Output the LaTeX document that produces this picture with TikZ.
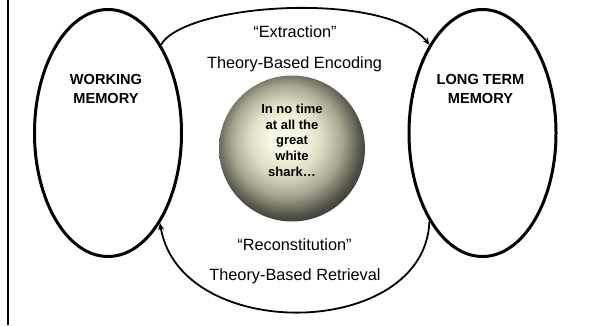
\documentclass[tikz,border=0pt]{standalone}
\usepackage{fontspec}
\setmainfont{Liberation Sans}
\usetikzlibrary{shapes.geometric,arrows.meta}
\definecolor{ballA}{HTML}{F8F8E6}
\definecolor{ballB}{HTML}{E0DFC6}
\definecolor{ballC}{HTML}{A6A590}
\definecolor{ballD}{HTML}{55544A}
\definecolor{ballE}{HTML}{262622}
\pgfdeclareradialshading{sharkball}{\pgfpoint{-3bp}{4.5bp}}{color(0bp)=(ballA); color(5bp)=(ballA); color(12bp)=(ballB); color(19bp)=(ballC); color(25bp)=(ballD); color(30bp)=(ballE); color(50bp)=(ballE)}
\tikzset{
  memory/.style={draw, ellipse, line width=3pt, inner sep=0pt, minimum width=147pt, minimum height=247pt},
  memlabel/.style={align=center, inner sep=0pt, font=\fontsize{14.6}{19}\selectfont\bfseries},
  flowtext/.style={anchor=base, inner sep=0pt, font=\fontsize{16.3}{19}\selectfont},
  flow/.style={line width=1.8pt, -{Stealth[length=7pt,width=6pt]}},
  balltext/.style={align=center, inner sep=0pt, font=\fontsize{13}{15.7}\selectfont\bfseries}
}
\begin{document}
\begin{tikzpicture}[x=1pt,y=1pt]
\useasboundingbox (0,0) rectangle (591,325);
% left frame line
\draw[line width=2.5pt] (8,0) -- (8,325);
% memories
\node[memory] (wm) at (108,192) {};
\node[memory] (ltm) at (482.5,192) {};
\node[memlabel] (wmt) at (106,235.7) {WORKING\\MEMORY};
\node[memlabel] (ltmt) at (480.5,235.7) {LONG TERM\\MEMORY};
% ball
\node[circle, inner sep=0pt, minimum size=146pt, shading=sharkball] (ball) at (292,176.5) {};
\node[balltext] (ballt) at (292,184.8) {In no time\\at all the\\great\\white\\shark\dots};
% texts
\node[flowtext] (ext) at (295,288) {“Extraction”};
\node[flowtext] (enc) at (294.5,257) {Theory-Based Encoding};
\node[flowtext] (rec) at (294.5,75) {“Reconstitution”};
\node[flowtext] (ret) at (295,45) {Theory-Based Retrieval};
% flows
\draw[flow] (wm.59.5) .. controls (185,322) and (385,335) .. (ltm.121.8);
\draw[flow] (ltm.239.4) .. controls (425,-15) and (180,-19) .. (wm.-60.1);
\end{tikzpicture}
\end{document}
